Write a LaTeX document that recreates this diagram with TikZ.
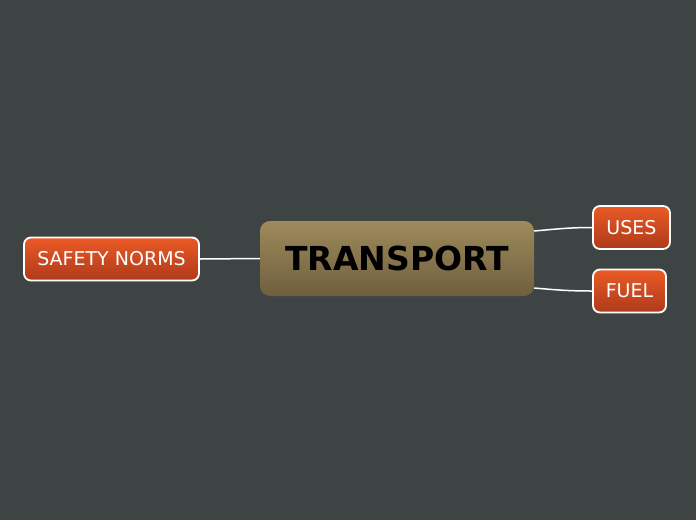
\documentclass[tikz,border=0pt]{standalone}
\usepackage{fontspec}
\setmainfont{DejaVu Sans}
\definecolor{bg}{HTML}{3E4444}
\definecolor{ctop}{HTML}{9E8A5A}
\definecolor{cbot}{HTML}{6E5F3F}
\definecolor{otop}{HTML}{EA5A26}
\definecolor{obot}{HTML}{AE3A1A}
\begin{document}
\begin{tikzpicture}[x=1pt,y=-1pt,
  central/.style={rounded corners=10pt, top color=ctop, bottom color=cbot, minimum width=274pt, minimum height=75pt, inner sep=0pt, font=\fontsize{33}{36}\selectfont\bfseries, text=black},
  topic/.style={rounded corners=7pt, draw=white, line width=1.8pt, top color=otop, bottom color=obot, minimum height=43pt, inner sep=0pt, font=\fontsize{19}{22}\selectfont, text=white},
  link/.style={draw=white, line width=1.5pt}]
\fill[bg] (0,0) rectangle (696,520);
\useasboundingbox (0,0) rectangle (696,520);
\node[central] (c) at (397,258.5) {TRANSPORT};
\node[topic, minimum width=175pt] (s) at (111.5,259) {SAFETY NORMS};
\node[topic, minimum width=77pt] (u) at (631.5,227.5) {USES};
\node[topic, minimum width=73pt] (f) at (629.5,291) {FUEL};
\draw[link] (s.east) -- (c.west);
\draw[link] ([yshift=27.5pt]c.east) to[out=5,in=180] (u.west);
\draw[link] ([yshift=-29.5pt]c.east) to[out=-5,in=180] (f.west);
\end{tikzpicture}
\end{document}
